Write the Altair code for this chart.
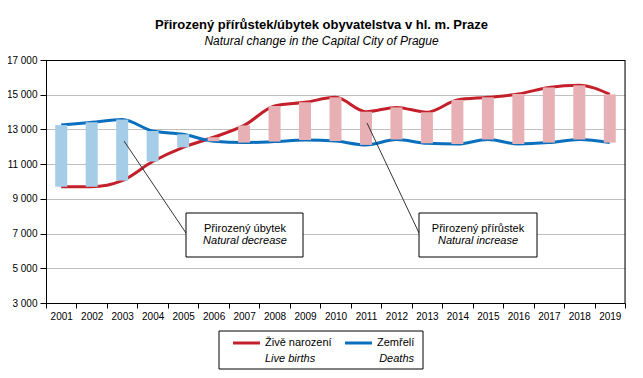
import altair as alt
import pandas as pd

years = [str(y) for y in range(2001, 2020)]
births = [9700, 9700, 10050, 11150, 11970, 12550, 13230, 14350, 14560, 14850,
          14020, 14270, 13990, 14700, 14850, 15040, 15420, 15540, 15020]
deaths = [13250, 13410, 13570, 12910, 12720, 12320, 12240, 12300, 12390, 12330,
          12110, 12420, 12200, 12160, 12420, 12160, 12240, 12420, 12240]
y_ticks = [3000, 5000, 7000, 9000, 11000, 13000, 15000, 17000]

title_cz = "Přirozený přírůstek/úbytek  obyvatelstva  v  hl. m. Praze"
title_en = "Natural  change  in the Capital  City of Prague"
series_cz = ["Živě narození", "Zemřelí"]
series_en = ["Live births", "Deaths"]
ann_cz = ["Přirozený úbytek", "Přirozený přírůstek"]
ann_en = ["Natural decrease", "Natural increase"]

RED = "#C4202B"
BLUE = "#0A6FBD"
PINK = "#E6B0B4"
LBLUE = "#A5CDE8"
FONT = "Liberation Sans"

df = pd.DataFrame({"year": years, "births": births, "deaths": deaths})

y_scale = alt.Scale(domain=[3000, 17000], nice=False, zero=False)
y_axis = alt.Axis(values=y_ticks, tickCount=8,
                  labelExpr="replace(format(datum.value, ','), ',', ' ')",
                  labelFontSize=10, labelColor="black", domainColor="black",
                  tickColor="black", tickSize=6, labelPadding=3, labelOverlap=False,
                  gridColor="#BFBFBF", gridWidth=1, labelFont=FONT)
x_axis = alt.Axis(labelAngle=0, tickBand="extent", labelFontSize=10,
                  labelColor="black", domainColor="black", tickColor="black",
                  tickSize=5, labelPadding=3, grid=False, labelFont=FONT)
x_scale = alt.Scale(paddingInner=0, paddingOuter=0)

lines = alt.Chart(df).transform_fold(["births", "deaths"], as_=["series", "value"]).mark_line(
    strokeWidth=3, interpolate="monotone"
).encode(
    x=alt.X("year:O", title=None, scale=x_scale, axis=x_axis),
    y=alt.Y("value:Q", title=None, scale=y_scale, axis=y_axis),
    color=alt.Color("series:N", scale=alt.Scale(domain=["births", "deaths"], range=[RED, BLUE]),
                    legend=None),
)

bars = alt.Chart(df).mark_bar(size=12).encode(
    x=alt.X("year:O", title=None, scale=x_scale, axis=x_axis),
    y=alt.Y("births:Q", title=None, scale=y_scale, axis=y_axis),
    y2="deaths:Q",
    color=alt.condition("datum.births > datum.deaths", alt.value(PINK), alt.value(LBLUE)),
)

one = pd.DataFrame({"k": [0]})

def box(x1, x2, y1, y2, fill="white"):
    return alt.Chart(one).mark_rect(fill=fill, stroke="black", strokeWidth=1).encode(
        x=alt.value(x1), x2=alt.value(x2), y=alt.value(y1), y2=alt.value(y2))

def connector(x1, y1, x2, y2, c="#333333", w=1):
    return alt.Chart(one).mark_rule(color=c, strokeWidth=w).encode(
        x=alt.value(x1), y=alt.value(y1), x2=alt.value(x2), y2=alt.value(y2))

def txt(s, x, y, italic=False, align="center"):
    return alt.Chart(one).mark_text(
        text=s, font=FONT, fontSize=11, fontStyle="italic" if italic else "normal",
        align=align, baseline="middle", color="black"
    ).encode(x=alt.value(x), y=alt.value(y))

def legline(x1, x2, y, c):
    return alt.Chart(one).mark_rule(color=c, strokeWidth=3).encode(
        x=alt.value(x1), x2=alt.value(x2), y=alt.value(y))

annotations = [
    connector(0, 0.5, 579, 0.5, "black"),
    connector(579, 0, 579, 243, "black"),
    connector(78, 81, 140, 173),
    connector(321, 63, 373, 173),
    box(140, 257, 153, 197),
    box(373, 491, 153, 197),
    txt(ann_cz[0], 199, 169), txt(ann_en[0], 199, 181, italic=True),
    txt(ann_cz[1], 432, 169), txt(ann_en[1], 432, 181, italic=True),
    box(173, 377, 271, 309),
    legline(187, 214, 283, RED),
    legline(299, 326, 283, BLUE),
    txt(series_cz[0], 219, 283, align="left"),
    txt(series_en[0], 219, 299, italic=True, align="left"),
    txt(series_cz[1], 331, 283, align="left"),
    txt(series_en[1], 368, 299, italic=True, align="right"),
]

chart = alt.layer(lines, bars, *annotations).properties(
    width=579, height=243,
    autosize=alt.AutoSizeParams(type="none"),
    padding={"left": 38, "top": 52, "right": 10, "bottom": 67},
    title=alt.TitleParams(text=title_cz, subtitle=title_en, font=FONT, fontSize=13,
                          fontWeight="bold", color="black", subtitleFont=FONT,
                          subtitleFontSize=12, subtitleFontStyle="italic",
                          subtitleColor="black", anchor="middle", dx=-14, offset=8,
                          subtitlePadding=4),
).configure_view(stroke="black", strokeWidth=1).configure(font=FONT)

chart.save("out.html", embed_options={"renderer": "svg", "actions": False})
